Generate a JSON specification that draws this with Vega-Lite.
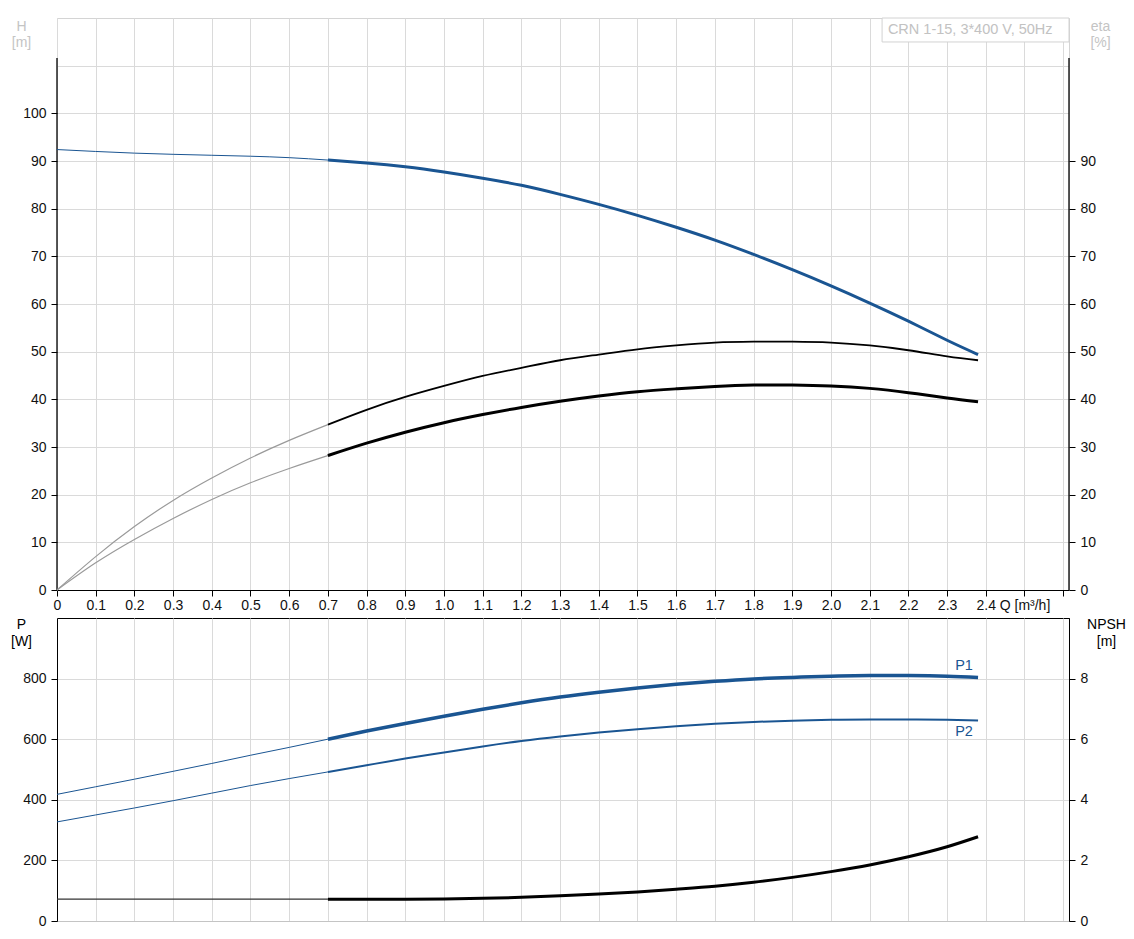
{
  "$schema": "https://vega.github.io/schema/vega-lite/v6.json",
  "padding": {"left": 10, "top": 17, "right": 5, "bottom": 5},
  "background": "white",
  "spacing": 28,
  "bounds": "flush",
  "config": {
    "font": "Liberation Sans",
    "view": {"stroke": null},
    "axis": {
      "labelFont": "Liberation Sans", "labelFontSize": 14, "labelColor": "#111",
      "tickColor": "#000", "domainColor": "#000", "gridColor": "#dadada",
      "tickSize": 6, "labelPadding": 5,
      "titleFont": "Liberation Sans", "titleFontSize": 14, "titleFontWeight": "normal",
      "labelOverlap": false, "labelFlush": false, "labelBound": false
    }
  },
  "datasets": {
    "curves": [
      {"curve": "H", "range": "ext", "Q": 0, "v": 92.4},
      {"curve": "H", "range": "ext", "Q": 0.1, "v": 92.0},
      {"curve": "H", "range": "ext", "Q": 0.2, "v": 91.65},
      {"curve": "H", "range": "ext", "Q": 0.3, "v": 91.4},
      {"curve": "H", "range": "ext", "Q": 0.4, "v": 91.2},
      {"curve": "H", "range": "ext", "Q": 0.5, "v": 91.0},
      {"curve": "H", "range": "ext", "Q": 0.6, "v": 90.7},
      {"curve": "H", "range": "ext", "Q": 0.7, "v": 90.2},
      {"curve": "H", "range": "op", "Q": 0.7, "v": 90.2},
      {"curve": "H", "range": "op", "Q": 0.8, "v": 89.6},
      {"curve": "H", "range": "op", "Q": 0.9, "v": 88.8},
      {"curve": "H", "range": "op", "Q": 1.0, "v": 87.7},
      {"curve": "H", "range": "op", "Q": 1.1, "v": 86.4},
      {"curve": "H", "range": "op", "Q": 1.2, "v": 84.9},
      {"curve": "H", "range": "op", "Q": 1.3, "v": 83.0},
      {"curve": "H", "range": "op", "Q": 1.4, "v": 80.9},
      {"curve": "H", "range": "op", "Q": 1.5, "v": 78.6},
      {"curve": "H", "range": "op", "Q": 1.6, "v": 76.1},
      {"curve": "H", "range": "op", "Q": 1.7, "v": 73.4},
      {"curve": "H", "range": "op", "Q": 1.8, "v": 70.4},
      {"curve": "H", "range": "op", "Q": 1.9, "v": 67.2},
      {"curve": "H", "range": "op", "Q": 2.0, "v": 63.8},
      {"curve": "H", "range": "op", "Q": 2.1, "v": 60.2},
      {"curve": "H", "range": "op", "Q": 2.2, "v": 56.4},
      {"curve": "H", "range": "op", "Q": 2.3, "v": 52.4},
      {"curve": "H", "range": "op", "Q": 2.38, "v": 49.4},
      {"curve": "eta_pump", "range": "ext", "Q": 0, "v": 0},
      {"curve": "eta_pump", "range": "ext", "Q": 0.1, "v": 7.0},
      {"curve": "eta_pump", "range": "ext", "Q": 0.2, "v": 13.3},
      {"curve": "eta_pump", "range": "ext", "Q": 0.3, "v": 18.8},
      {"curve": "eta_pump", "range": "ext", "Q": 0.4, "v": 23.5},
      {"curve": "eta_pump", "range": "ext", "Q": 0.5, "v": 27.7},
      {"curve": "eta_pump", "range": "ext", "Q": 0.6, "v": 31.4},
      {"curve": "eta_pump", "range": "ext", "Q": 0.7, "v": 34.7},
      {"curve": "eta_pump", "range": "op", "Q": 0.7, "v": 34.7},
      {"curve": "eta_pump", "range": "op", "Q": 0.8, "v": 37.8},
      {"curve": "eta_pump", "range": "op", "Q": 0.9, "v": 40.5},
      {"curve": "eta_pump", "range": "op", "Q": 1.0, "v": 42.8},
      {"curve": "eta_pump", "range": "op", "Q": 1.1, "v": 44.9},
      {"curve": "eta_pump", "range": "op", "Q": 1.2, "v": 46.6},
      {"curve": "eta_pump", "range": "op", "Q": 1.3, "v": 48.2},
      {"curve": "eta_pump", "range": "op", "Q": 1.4, "v": 49.4},
      {"curve": "eta_pump", "range": "op", "Q": 1.5, "v": 50.5},
      {"curve": "eta_pump", "range": "op", "Q": 1.6, "v": 51.3},
      {"curve": "eta_pump", "range": "op", "Q": 1.7, "v": 51.9},
      {"curve": "eta_pump", "range": "op", "Q": 1.8, "v": 52.1},
      {"curve": "eta_pump", "range": "op", "Q": 1.9, "v": 52.1},
      {"curve": "eta_pump", "range": "op", "Q": 2.0, "v": 51.9},
      {"curve": "eta_pump", "range": "op", "Q": 2.1, "v": 51.3},
      {"curve": "eta_pump", "range": "op", "Q": 2.2, "v": 50.3},
      {"curve": "eta_pump", "range": "op", "Q": 2.3, "v": 49.0},
      {"curve": "eta_pump", "range": "op", "Q": 2.38, "v": 48.2},
      {"curve": "eta_total", "range": "ext", "Q": 0, "v": 0},
      {"curve": "eta_total", "range": "ext", "Q": 0.1, "v": 5.7},
      {"curve": "eta_total", "range": "ext", "Q": 0.2, "v": 10.6},
      {"curve": "eta_total", "range": "ext", "Q": 0.3, "v": 15.0},
      {"curve": "eta_total", "range": "ext", "Q": 0.4, "v": 19.0},
      {"curve": "eta_total", "range": "ext", "Q": 0.5, "v": 22.5},
      {"curve": "eta_total", "range": "ext", "Q": 0.6, "v": 25.5},
      {"curve": "eta_total", "range": "ext", "Q": 0.7, "v": 28.2},
      {"curve": "eta_total", "range": "op", "Q": 0.7, "v": 28.2},
      {"curve": "eta_total", "range": "op", "Q": 0.8, "v": 30.8},
      {"curve": "eta_total", "range": "op", "Q": 0.9, "v": 33.1},
      {"curve": "eta_total", "range": "op", "Q": 1.0, "v": 35.1},
      {"curve": "eta_total", "range": "op", "Q": 1.1, "v": 36.8},
      {"curve": "eta_total", "range": "op", "Q": 1.2, "v": 38.3},
      {"curve": "eta_total", "range": "op", "Q": 1.3, "v": 39.6},
      {"curve": "eta_total", "range": "op", "Q": 1.4, "v": 40.7},
      {"curve": "eta_total", "range": "op", "Q": 1.5, "v": 41.6},
      {"curve": "eta_total", "range": "op", "Q": 1.6, "v": 42.2},
      {"curve": "eta_total", "range": "op", "Q": 1.7, "v": 42.7},
      {"curve": "eta_total", "range": "op", "Q": 1.8, "v": 43.0},
      {"curve": "eta_total", "range": "op", "Q": 1.9, "v": 43.0},
      {"curve": "eta_total", "range": "op", "Q": 2.0, "v": 42.8},
      {"curve": "eta_total", "range": "op", "Q": 2.1, "v": 42.3},
      {"curve": "eta_total", "range": "op", "Q": 2.2, "v": 41.4},
      {"curve": "eta_total", "range": "op", "Q": 2.3, "v": 40.3},
      {"curve": "eta_total", "range": "op", "Q": 2.38, "v": 39.5},
      {"curve": "P1", "range": "ext", "Q": 0, "v": 418},
      {"curve": "P1", "range": "ext", "Q": 0.1, "v": 443},
      {"curve": "P1", "range": "ext", "Q": 0.2, "v": 468},
      {"curve": "P1", "range": "ext", "Q": 0.3, "v": 494},
      {"curve": "P1", "range": "ext", "Q": 0.4, "v": 520},
      {"curve": "P1", "range": "ext", "Q": 0.5, "v": 547},
      {"curve": "P1", "range": "ext", "Q": 0.6, "v": 573},
      {"curve": "P1", "range": "ext", "Q": 0.7, "v": 600},
      {"curve": "P1", "range": "op", "Q": 0.7, "v": 600},
      {"curve": "P1", "range": "op", "Q": 0.8, "v": 627},
      {"curve": "P1", "range": "op", "Q": 0.9, "v": 652},
      {"curve": "P1", "range": "op", "Q": 1.0, "v": 676},
      {"curve": "P1", "range": "op", "Q": 1.1, "v": 699},
      {"curve": "P1", "range": "op", "Q": 1.2, "v": 720},
      {"curve": "P1", "range": "op", "Q": 1.3, "v": 739},
      {"curve": "P1", "range": "op", "Q": 1.4, "v": 755},
      {"curve": "P1", "range": "op", "Q": 1.5, "v": 769},
      {"curve": "P1", "range": "op", "Q": 1.6, "v": 781},
      {"curve": "P1", "range": "op", "Q": 1.7, "v": 791},
      {"curve": "P1", "range": "op", "Q": 1.8, "v": 799},
      {"curve": "P1", "range": "op", "Q": 1.9, "v": 804},
      {"curve": "P1", "range": "op", "Q": 2.0, "v": 808},
      {"curve": "P1", "range": "op", "Q": 2.1, "v": 810},
      {"curve": "P1", "range": "op", "Q": 2.2, "v": 810},
      {"curve": "P1", "range": "op", "Q": 2.3, "v": 808},
      {"curve": "P1", "range": "op", "Q": 2.38, "v": 804},
      {"curve": "P2", "range": "ext", "Q": 0, "v": 327},
      {"curve": "P2", "range": "ext", "Q": 0.1, "v": 350},
      {"curve": "P2", "range": "ext", "Q": 0.2, "v": 373},
      {"curve": "P2", "range": "ext", "Q": 0.3, "v": 397},
      {"curve": "P2", "range": "ext", "Q": 0.4, "v": 422},
      {"curve": "P2", "range": "ext", "Q": 0.5, "v": 447},
      {"curve": "P2", "range": "ext", "Q": 0.6, "v": 470},
      {"curve": "P2", "range": "ext", "Q": 0.7, "v": 492},
      {"curve": "P2", "range": "op", "Q": 0.7, "v": 492},
      {"curve": "P2", "range": "op", "Q": 0.8, "v": 514},
      {"curve": "P2", "range": "op", "Q": 0.9, "v": 536},
      {"curve": "P2", "range": "op", "Q": 1.0, "v": 556},
      {"curve": "P2", "range": "op", "Q": 1.1, "v": 576},
      {"curve": "P2", "range": "op", "Q": 1.2, "v": 594},
      {"curve": "P2", "range": "op", "Q": 1.3, "v": 609},
      {"curve": "P2", "range": "op", "Q": 1.4, "v": 622},
      {"curve": "P2", "range": "op", "Q": 1.5, "v": 633},
      {"curve": "P2", "range": "op", "Q": 1.6, "v": 643},
      {"curve": "P2", "range": "op", "Q": 1.7, "v": 651},
      {"curve": "P2", "range": "op", "Q": 1.8, "v": 657},
      {"curve": "P2", "range": "op", "Q": 1.9, "v": 661},
      {"curve": "P2", "range": "op", "Q": 2.0, "v": 664},
      {"curve": "P2", "range": "op", "Q": 2.1, "v": 665},
      {"curve": "P2", "range": "op", "Q": 2.2, "v": 665},
      {"curve": "P2", "range": "op", "Q": 2.3, "v": 664},
      {"curve": "P2", "range": "op", "Q": 2.38, "v": 662},
      {"curve": "NPSH", "range": "ext", "Q": 0, "v": 0.72},
      {"curve": "NPSH", "range": "ext", "Q": 0.1, "v": 0.72},
      {"curve": "NPSH", "range": "ext", "Q": 0.2, "v": 0.72},
      {"curve": "NPSH", "range": "ext", "Q": 0.3, "v": 0.72},
      {"curve": "NPSH", "range": "ext", "Q": 0.4, "v": 0.72},
      {"curve": "NPSH", "range": "ext", "Q": 0.5, "v": 0.72},
      {"curve": "NPSH", "range": "ext", "Q": 0.6, "v": 0.72},
      {"curve": "NPSH", "range": "ext", "Q": 0.7, "v": 0.72},
      {"curve": "NPSH", "range": "op", "Q": 0.7, "v": 0.72},
      {"curve": "NPSH", "range": "op", "Q": 0.8, "v": 0.72},
      {"curve": "NPSH", "range": "op", "Q": 0.9, "v": 0.72},
      {"curve": "NPSH", "range": "op", "Q": 1.0, "v": 0.73},
      {"curve": "NPSH", "range": "op", "Q": 1.1, "v": 0.75},
      {"curve": "NPSH", "range": "op", "Q": 1.2, "v": 0.78},
      {"curve": "NPSH", "range": "op", "Q": 1.3, "v": 0.83},
      {"curve": "NPSH", "range": "op", "Q": 1.4, "v": 0.89},
      {"curve": "NPSH", "range": "op", "Q": 1.5, "v": 0.96},
      {"curve": "NPSH", "range": "op", "Q": 1.6, "v": 1.05},
      {"curve": "NPSH", "range": "op", "Q": 1.7, "v": 1.15},
      {"curve": "NPSH", "range": "op", "Q": 1.8, "v": 1.28},
      {"curve": "NPSH", "range": "op", "Q": 1.9, "v": 1.44},
      {"curve": "NPSH", "range": "op", "Q": 2.0, "v": 1.63},
      {"curve": "NPSH", "range": "op", "Q": 2.1, "v": 1.85},
      {"curve": "NPSH", "range": "op", "Q": 2.2, "v": 2.12},
      {"curve": "NPSH", "range": "op", "Q": 2.3, "v": 2.45},
      {"curve": "NPSH", "range": "op", "Q": 2.38, "v": 2.78}
    ]
  },
  "vconcat": [
    {
      "width": 1012,
      "height": 572,
      "view": {"stroke": "#d4d4d4"},
      "data": {"name": "curves"},
      "resolve": {"scale": {"y": "independent"}},
      "encoding": {
        "x": {
          "field": "Q", "type": "quantitative",
          "scale": {"domain": [0, 2.615], "nice": false, "zero": false},
          "axis": {
            "values": [0, 0.1, 0.2, 0.3, 0.4, 0.5, 0.6, 0.7, 0.8, 0.9, 1.0, 1.1, 1.2, 1.3, 1.4, 1.5, 1.6, 1.7, 1.8, 1.9, 2.0, 2.1, 2.2, 2.3, 2.4, 2.5, 2.6],
            "title": null, "grid": true, "tickSize": 6, "labelPadding": 2,
            "labelExpr": "datum.value == 0 ? '0' : (datum.value > 2.45 && datum.value < 2.55) ? '\u00a0\u00a0\u00a0\u00a0\u00a0\u00a0\u00a0Q [m³/h]' : datum.value > 2.55 ? '' : format(datum.value, '.1f')"
          }
        }
      },
      "layer": [
        {
          "encoding": {
            "y": {
              "field": "v", "type": "quantitative",
              "scale": {"domain": [0, 120], "nice": false, "zero": false},
              "axis": {
                "values": [0, 10, 20, 30, 40, 50, 60, 70, 80, 90, 100, 110],
                "domain": false, "grid": true,
                "labelExpr": "datum.value > 105 ? '' : datum.label",
                "tickColor": {"condition": {"test": "datum.value > 105", "value": "transparent"}, "value": "#000"},
                "title": ["H", "[m]"], "titleAngle": 0, "titleAlign": "center", "titleBaseline": "top",
                "titleX": -36, "titleY": 1, "titleColor": "#c4c4c4", "titleLineHeight": 16
              }
            }
          },
          "layer": [
            {
              "data": {"values": [{"edge": "left", "Q": 0, "v": 0, "v2": 111.6}, {"edge": "right", "Q": 2.615, "v": 0, "v2": 111.6}]},
              "mark": {"type": "rule", "color": "#000", "strokeWidth": 1.3},
              "encoding": {"y2": {"field": "v2"}}
            },
            {
              "transform": [{"filter": "datum.curve == 'H' && datum.range == 'ext'"}],
              "mark": {"type": "line", "color": "#1a5592", "strokeWidth": 1, "interpolate": "natural"}
            },
            {
              "transform": [{"filter": "datum.curve == 'H' && datum.range == 'op'"}],
              "mark": {"type": "line", "color": "#1a5592", "strokeWidth": 3, "interpolate": "natural"}
            }
          ]
        },
        {
          "encoding": {
            "y": {
              "field": "v", "type": "quantitative",
              "scale": {"domain": [0, 120], "nice": false, "zero": false},
              "axis": {
                "orient": "right",
                "values": [0, 10, 20, 30, 40, 50, 60, 70, 80, 90],
                "domain": false, "grid": false,
                "title": ["eta", "[%]"], "titleAngle": 0, "titleAlign": "center", "titleBaseline": "top",
                "titleX": 31, "titleY": 1, "titleColor": "#c4c4c4", "titleLineHeight": 16
              }
            }
          },
          "layer": [
            {
              "transform": [{"filter": "datum.curve == 'eta_pump' && datum.range == 'ext'"}],
              "mark": {"type": "line", "color": "#9a9a9a", "strokeWidth": 1.2, "interpolate": "natural"}
            },
            {
              "transform": [{"filter": "datum.curve == 'eta_total' && datum.range == 'ext'"}],
              "mark": {"type": "line", "color": "#9a9a9a", "strokeWidth": 1.2, "interpolate": "natural"}
            },
            {
              "transform": [{"filter": "datum.curve == 'eta_pump' && datum.range == 'op'"}],
              "mark": {"type": "line", "color": "#000", "strokeWidth": 1.8, "interpolate": "natural"}
            },
            {
              "transform": [{"filter": "datum.curve == 'eta_total' && datum.range == 'op'"}],
              "mark": {"type": "line", "color": "#000", "strokeWidth": 3, "interpolate": "natural"}
            },
            {
              "data": {"values": [{"label": "CRN 1-15, 3*400 V, 50Hz", "Q": 2.132, "Q2": 2.615, "v": 120, "v2": 114.97}]},
              "mark": {"type": "rect", "fill": "white", "stroke": "#d2d2d2", "strokeWidth": 1},
              "encoding": {"x2": {"field": "Q2"}, "y2": {"field": "v2"}}
            },
            {
              "data": {"values": [{"label": "CRN 1-15, 3*400 V, 50Hz", "Q": 2.147, "v": 117.5}]},
              "mark": {"type": "text", "align": "left", "baseline": "middle", "color": "#c2c2c2", "fontSize": 14.5, "font": "Liberation Sans"},
              "encoding": {"text": {"field": "label"}}
            }
          ]
        }
      ]
    },
    {
      "width": 1012,
      "height": 303,
      "view": {"stroke": "#000"},
      "data": {"name": "curves"},
      "resolve": {"scale": {"y": "independent"}},
      "encoding": {
        "x": {
          "field": "Q", "type": "quantitative",
          "scale": {"domain": [0, 2.615], "nice": false, "zero": false},
          "axis": {
            "values": [0, 0.1, 0.2, 0.3, 0.4, 0.5, 0.6, 0.7, 0.8, 0.9, 1.0, 1.1, 1.2, 1.3, 1.4, 1.5, 1.6, 1.7, 1.8, 1.9, 2.0, 2.1, 2.2, 2.3, 2.4, 2.5, 2.6],
            "title": null, "grid": true, "labels": false, "ticks": false, "domainColor": "#c4c4c4"
          }
        }
      },
      "layer": [
        {
          "encoding": {
            "y": {
              "field": "v", "type": "quantitative",
              "scale": {"domain": [0, 1000], "nice": false, "zero": false},
              "axis": {
                "values": [0, 200, 400, 600, 800],
                "domain": true, "grid": true,
                "title": ["P", "[W]"], "titleAngle": 0, "titleAlign": "center", "titleBaseline": "top",
                "titleX": -36, "titleY": -1, "titleColor": "#000", "titleLineHeight": 17
              }
            }
          },
          "layer": [
            {
              "transform": [{"filter": "datum.curve == 'P1' && datum.range == 'ext'"}],
              "mark": {"type": "line", "color": "#1a5592", "strokeWidth": 1, "interpolate": "natural"}
            },
            {
              "transform": [{"filter": "datum.curve == 'P2' && datum.range == 'ext'"}],
              "mark": {"type": "line", "color": "#1a5592", "strokeWidth": 1, "interpolate": "natural"}
            },
            {
              "transform": [{"filter": "datum.curve == 'P1' && datum.range == 'op'"}],
              "mark": {"type": "line", "color": "#1a5592", "strokeWidth": 3.5, "interpolate": "natural"}
            },
            {
              "transform": [{"filter": "datum.curve == 'P2' && datum.range == 'op'"}],
              "mark": {"type": "line", "color": "#1a5592", "strokeWidth": 2, "interpolate": "natural"}
            },
            {
              "transform": [{"filter": "datum.curve == 'P1' && datum.range == 'op' && datum.Q == 2.38"}],
              "mark": {"type": "text", "color": "#1a5592", "fontSize": 14.5, "font": "Liberation Sans", "align": "center", "baseline": "middle", "dx": -14, "dy": -11},
              "encoding": {"text": {"field": "curve"}}
            },
            {
              "transform": [{"filter": "datum.curve == 'P2' && datum.range == 'op' && datum.Q == 2.38"}],
              "mark": {"type": "text", "color": "#1a5592", "fontSize": 14.5, "font": "Liberation Sans", "align": "center", "baseline": "middle", "dx": -14, "dy": 12},
              "encoding": {"text": {"field": "curve"}}
            }
          ]
        },
        {
          "encoding": {
            "y": {
              "field": "v", "type": "quantitative",
              "scale": {"domain": [0, 10], "nice": false, "zero": false},
              "axis": {
                "orient": "right",
                "values": [0, 2, 4, 6, 8],
                "domain": true, "grid": false,
                "title": ["NPSH", "[m]"], "titleAngle": 0, "titleAlign": "center", "titleBaseline": "top",
                "titleX": 37, "titleY": -1, "titleColor": "#000", "titleLineHeight": 17
              }
            }
          },
          "layer": [
            {
              "transform": [{"filter": "datum.curve == 'NPSH' && datum.range == 'ext'"}],
              "mark": {"type": "line", "color": "#333", "strokeWidth": 1.2, "interpolate": "monotone"}
            },
            {
              "transform": [{"filter": "datum.curve == 'NPSH' && datum.range == 'op'"}],
              "mark": {"type": "line", "color": "#000", "strokeWidth": 3, "interpolate": "monotone"}
            }
          ]
        }
      ]
    }
  ]
}
